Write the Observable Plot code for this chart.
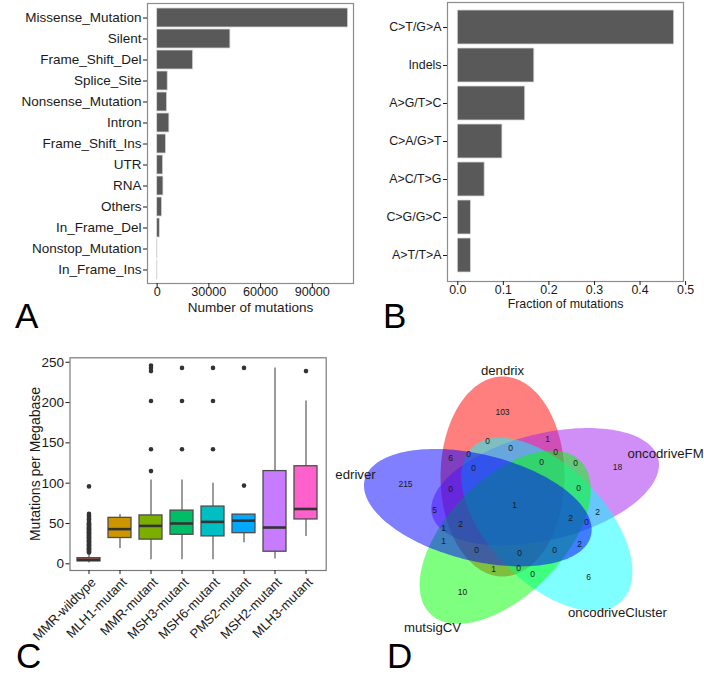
<!DOCTYPE html>
<html><head><meta charset="utf-8">
<script src="https://cdn.jsdelivr.net/npm/d3@7"></script>
<script src="https://cdn.jsdelivr.net/npm/@observablehq/plot@0.6"></script>
<style>
body{margin:0;background:#fff;}
#root{position:relative;width:704px;height:675px;overflow:hidden;font-family:"Liberation Sans",Arial,sans-serif;background:#fff;}
.panel{position:absolute;}
.panel svg{overflow:visible;}
.letter{position:absolute;font-size:35px;line-height:0.8;color:#000;font-family:"Liberation Sans",Arial,sans-serif;}
.ytitle{position:absolute;font-size:14px;color:#1a1a1a;white-space:nowrap;transform:translate(-50%,-50%) rotate(-90deg);font-family:"Liberation Sans",Arial,sans-serif;}
</style></head><body><div id="root"></div>
<script>
// ---------- Panel A: variant classification ----------
const mutTypes = ["Missense_Mutation","Silent","Frame_Shift_Del","Splice_Site","Nonsense_Mutation","Intron","Frame_Shift_Ins","UTR","RNA","Others","In_Frame_Del","Nonstop_Mutation","In_Frame_Ins"];
const mutCounts = [110800,42500,20900,6150,5800,7100,5200,3500,3650,2900,1550,150,120];
const xTicksA = [0,30000,60000,90000];

// ---------- Panel B: substitution types ----------
const substTypes = ["C>T/G>A","Indels","A>G/T>C","C>A/G>T","A>C/T>G","C>G/G>C","A>T/T>A"];
const substFractions = [0.475,0.168,0.148,0.098,0.059,0.029,0.029];
const xTicksB = [0,0.1,0.2,0.3,0.4,0.5];

// ---------- Panel C: mutations per megabase ----------
const groups = ["MMR-wildtype","MLH1-mutant","MMR-mutant","MSH3-mutant","MSH6-mutant","PMS2-mutant","MSH2-mutant","MLH3-mutant"];
const groupColors = ["#F8766D","#CD9600","#7CAE00","#00BE67","#00BFC4","#00A9FF","#C77CFF","#FF61CC"];
const whiskerLow  = [1, 19, 5, 5, 5, 26, 6, 34];
const q1          = [3, 32, 30, 36, 34, 38, 15, 55];
const median      = [5, 43, 47, 50, 52, 53.5, 45, 68];
const q3          = [7, 57, 60, 66, 71, 61, 115, 121];
const whiskerHigh = [13, 61, 104, 104, 100, 61, 243, 202];
const outliers = [
  [14,15,16,17,18,19,20,21,22,23,24,25,26,27,28,29,30,31,32,33,34,35,36,37,38,39,40,41,42,43,44,45,46,47,48,49,50,51,53,55,56,58,60,62,96],
  [],
  [115,142,202,239,243,246],
  [142,202,243],
  [142,202,243],
  [97,243],
  [],
  [239]
];
const yTicksC = [0,50,100,150,200,250];
const yTitleC = "Mutations per Megabase";

// ---------- Panel D: Venn diagram ----------
const vennSets = ["dendrix","oncodriveFM","oncodriveCluster","mutsigCV","edriver"];
const vennColors = ["#FF0000","#A020F0","#00FFFF","#00FF00","#0000FF"];
const regionCounts = [103,0,1,0,0,6,0,0,0,0,18,215,0,0,1,5,2,2,0,2,1,1,2,0,0,0,1,0,0,6,10];

// layout (geometry, not data)
const regionPos = [[502,412],[487,441],[547,439],[510,448],[555,452],[450,458],[468,454],[473,468],[541,462],[575,463],[617,467],[405,484],[450,489],[578,488],[514,505],[434,510],[597,512],[570,518],[586,522],[460,524],[443,528],[443,541],[579,544],[476,550],[519,553],[554,550],[493,569],[518,568],[532,574],[588,577],[462,592]];
const setLabelPos = [[502,370],[665,453],[617,612],[432,627],[355,474]];
const vennCenter = [515,506], vennStretch = 1.18, vennA = 100, vennB = 52.5, vennOffset = [-11,30];

const FONT = '"Liberation Sans", Arial, sans-serif';
const INK = "#1a1a1a";
const root = document.getElementById("root");
function place(node, left, top) {
  const d = document.createElement("div");
  d.className = "panel"; d.style.left = left + "px"; d.style.top = top + "px";
  d.appendChild(node); root.appendChild(d);
}
function htmlText(cls, t, left, top) {
  const d = document.createElement("div");
  d.className = cls; d.textContent = t; d.style.left = left + "px"; d.style.top = top + "px";
  root.appendChild(d);
}

// Panel A
const dataA = mutTypes.map((t,i)=>({type:t, n:mutCounts[i]}));
place(Plot.plot({
  width: 356, height: 320, marginLeft: 147, marginRight: 3, marginTop: 3, marginBottom: 37,
  style: {fontFamily: FONT, fontSize: "13.5px", color: INK, background: "transparent"},
  x: {domain: [-5600, 113900]},
  y: {domain: mutTypes, paddingInner: 0.1, paddingOuter: 0.15},
  marks: [
    Plot.barX(dataA, {x1: 0, x2: "n", y: "type", fill: "#595959", stroke: "#d9d9d9", strokeWidth: 0.8}),
    Plot.frame({stroke: "#8c8c8c", strokeWidth: 1.2}),
    Plot.axisY({tickSize: 4, tickPadding: 2, fontSize: 13.5, label: null}),
    Plot.axisX({ticks: xTicksA, tickFormat: d3.format("d"), tickSize: 4, tickPadding: 0, fontSize: 12.6, label: null}),
    Plot.text(["Number of mutations"], {text: d=>d, frameAnchor: "bottom", dy: 28, fontSize: 13.5, fill: INK})
  ]
}), 0, 0);

// Panel B
const dataB = substTypes.map((t,i)=>({type:t, f:substFractions[i]}));
place(Plot.plot({
  width: 348, height: 320, marginLeft: 91, marginRight: 21, marginTop: 2, marginBottom: 39,
  style: {fontFamily: FONT, fontSize: "12.4px", color: INK, background: "transparent"},
  x: {domain: [-0.0226, 0.4954]},
  y: {domain: substTypes, paddingInner: 0.1, paddingOuter: 0.15},
  marks: [
    Plot.barX(dataB, {x1: 0, x2: "f", y: "type", fill: "#595959", stroke: "#d9d9d9", strokeWidth: 0.8}),
    Plot.frame({stroke: "#8c8c8c", strokeWidth: 1.2}),
    Plot.axisY({tickSize: 4, tickPadding: 2, fontSize: 12.4, label: null}),
    Plot.axisX({ticks: xTicksB, tickFormat: d3.format(".1f"), tickSize: 4, tickPadding: 0, fontSize: 12.4, label: null}),
    Plot.text(["Fraction of mutations"], {text: d=>d, frameAnchor: "bottom", dy: 26, fontSize: 12.4, fill: INK})
  ]
}), 356, 0);

// Panel C
const boxes = groups.map((g,i)=>({g, lo: whiskerLow[i], q1: q1[i], med: median[i], q3: q3[i], hi: whiskerHigh[i], color: groupColors[i]}));
const outPts = groups.flatMap((g,i)=>outliers[i].map(v=>({g, v})));
place(Plot.plot({
  width: 352, height: 345, marginTop: 27.3, marginBottom: 105, marginLeft: 69.5, marginRight: 26.3,
  style: {fontFamily: FONT, fontSize: "13.5px", color: INK, background: "transparent"},
  color: {type: "identity"},
  x: {domain: groups, paddingInner: 0.25, paddingOuter: 0.225},
  y: {domain: [-8.3, 255.5]},
  marks: [
    Plot.ruleX(boxes, {x: "g", y1: "lo", y2: "hi", stroke: "#595959", strokeWidth: 1.2}),
    Plot.barY(boxes, {x: "g", y1: "q1", y2: "q3", fill: "color", stroke: "#4d4d4d", strokeWidth: 1.3}),
    Plot.tickY(boxes, {x: "g", y: "med", stroke: "#333", strokeWidth: 2.6}),
    Plot.dot(outPts, {x: "g", y: "v", r: 2.3, fill: "#333", stroke: "none"}),
    Plot.frame({stroke: "#7a7a7a", strokeWidth: 1.2}),
    Plot.axisY({ticks: yTicksC, tickSize: 4, tickPadding: 2, fontSize: 13.5, label: null}),
    Plot.axisX({tickSize: 4, tickFormat: () => "", label: null}),
    Plot.text(groups, {x: d=>d, text: d=>d, frameAnchor: "bottom", dy: 6, dx: 1, rotate: -45, textAnchor: "end", lineAnchor: "top", fontSize: 13, fill: INK})
  ]
}), 0, 330);
htmlText("ytitle", yTitleC, 35, 464);

// Panel D
function ellipse(k) {
  const rot = -72 * k * Math.PI / 180;
  const cx = vennOffset[0]*Math.cos(rot) - vennOffset[1]*Math.sin(rot);
  const cy = vennOffset[0]*Math.sin(rot) + vennOffset[1]*Math.cos(rot);
  const th = Math.PI/2 + rot;
  const pts = [];
  for (let j = 0; j < 180; j++) {
    const t = j / 180 * 2 * Math.PI;
    const u = vennA * Math.cos(t), v = vennB * Math.sin(t);
    const x = cx + u*Math.cos(th) - v*Math.sin(th);
    const y = cy + u*Math.sin(th) + v*Math.cos(th);
    pts.push({x: vennCenter[0] + vennStretch*x, y: vennCenter[1] - y});
  }
  return pts;
}
const regions = regionCounts.map((c,i)=>({c, x: regionPos[i][0], y: regionPos[i][1]}));
const setLabels = vennSets.map((s,i)=>({s, x: setLabelPos[i][0], y: setLabelPos[i][1]}));
place(Plot.plot({
  width: 374, height: 345, margin: 0,
  style: {fontFamily: FONT, background: "transparent"},
  x: {domain: [330, 704], range: [0, 374], axis: null},
  y: {domain: [330, 675], range: [0, 345], axis: null},
  marks: [
    ...vennSets.map((s,k)=>Plot.line(ellipse(k), {x: "x", y: "y", fill: vennColors[k], fillOpacity: 0.5, stroke: "none", curve: "linear-closed"})),
    Plot.text(regions, {x: "x", y: "y", text: d=>String(d.c), fontSize: 8.5, fill: INK}),
    Plot.text(setLabels, {x: "x", y: "y", text: "s", fontSize: 13.2, fill: INK})
  ]
}), 330, 330);

htmlText("letter", "A", 15, 302);
htmlText("letter", "B", 383, 302);
htmlText("letter", "C", 16, 642);
htmlText("letter", "D", 387, 642);
</script></body></html>
